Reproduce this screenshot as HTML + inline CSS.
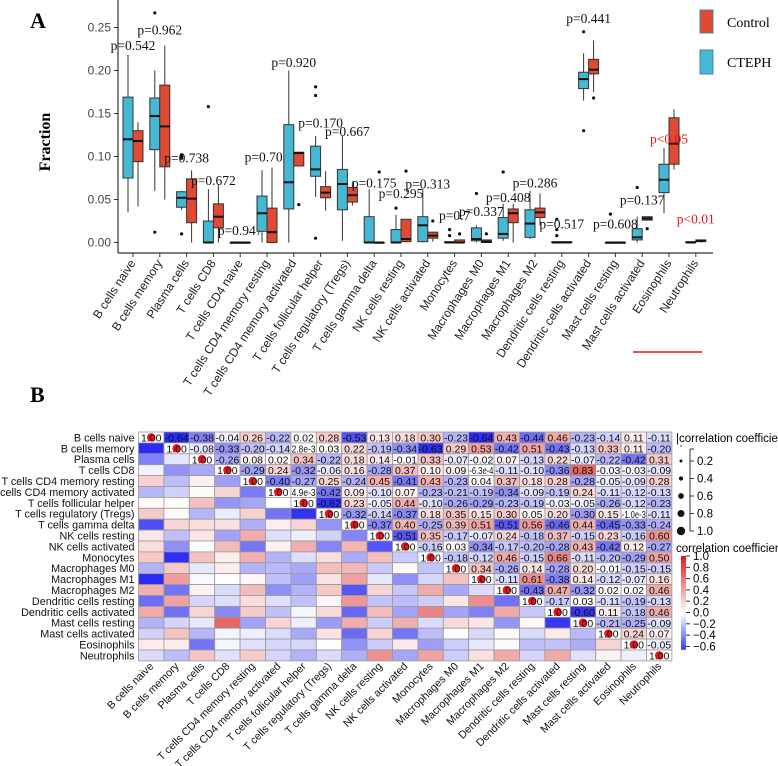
<!DOCTYPE html>
<html><head><meta charset="utf-8"><style>
body{margin:0;background:#fff;}
svg{display:block;font-family:"Liberation Sans",sans-serif;}
</style></head><body>
<svg id="fig" width="778" height="766" xmlns="http://www.w3.org/2000/svg"></svg>
<script>
// ===== Panel A data =====
const catsA=["B cells naive","B cells memory","Plasma cells","T cells CD8","T cells CD4 naive","T cells CD4 memory resting","T cells CD4 memory activated","T cells follicular helper","T cells regulatory (Tregs)","T cells gamma delta","NK cells resting","NK cells activated","Monocytes","Macrophages M0","Macrophages M1","Macrophages M2","Dendritic cells resting","Dendritic cells activated","Mast cells resting","Mast cells activated","Eosinophils","Neutrophils"];
// [lowWhisker,q1,median,q3,highWhisker]
const cteph=[[0.035,0.075,0.12,0.169,0.218],[0.06,0.108,0.147,0.168,0.2],[0.038,0.041,0.052,0.059,0.06],[0,0,0,0.025,0.062],[0,0,0,0,0],[0,0.013,0.034,0.054,0.084],[0,0.039,0.07,0.137,0.2],[0.053,0.077,0.085,0.112,0.124],[0.002,0.038,0.068,0.085,0.124],[0,0,0,0.03,0.062],[0,0,0,0.015,0.032],[0,0.001,0.02,0.03,0.062],[0,0,0,0.001,0.001],[0,0.002,0.004,0.017,0.02],[0.002,0.005,0.01,0.029,0.045],[0.004,0.006,0.022,0.038,0.06],[0,0,0,0.001,0.001],[0.165,0.179,0.19,0.198,0.22],[0,0,0,0,0],[0,0.003,0.006,0.016,0.03],[0.034,0.058,0.073,0.091,0.11],[0,0,0,0.001,0.001]];
const control=[[0.042,0.094,0.118,0.13,0.14],[0.05,0.088,0.135,0.183,0.229],[0,0.023,0.051,0.074,0.084],[0,0.017,0.03,0.045,0.068],[0,0,0,0,0],[0,0,0.012,0.04,0.087],[0.089,0.089,0.104,0.105,0.105],[0.037,0.052,0.058,0.065,0.083],[0.043,0.047,0.055,0.064,0.07],[0,0,0,0,0],[0,0.001,0.004,0.027,0.027],[0.001,0.005,0.008,0.012,0.012],[0,0,0,0.003,0.003],[0,0,0.001,0.003,0.003],[0,0.023,0.034,0.039,0.045],[0.02,0.029,0.035,0.04,0.057],[0,0,0,0.001,0.001],[0.175,0.196,0.201,0.213,0.235],[0,0,0,0,0],[0.026,0.026,0.028,0.03,0.03],[0.085,0.091,0.115,0.145,0.155],[0,0.001,0.002,0.003,0.003]];
const outC=[[],[0.267,0.012],[0.098,0.1,0.102,0.01],[0.158],[],[],[],[0.181,0.171,0.005],[],[],[0.04],[],[0.015,0.008],[0.057],[0.082],[],[0.027,0.008,0.015],[0.245,0.13],[0.033],[0.064],[],[]];
const outK=[[],[],[],[],[],[],[0.044],[],[],[0.082],[0.083],[0.025],[0.01],[0.01],[],[],[],[0.168],[],[0.016],[],[]];
const pLabels=["p=0.542","p=0.962","p=0.738","p=0.672","p=0.947","p=0.705","p=0.920","p=0.170","p=0.667","p=0.175","p=0.295","p=0.313","p=0.7","p=0.337","p=0.408","p=0.286","p=0.517","p=0.441","p=0.608","p=0.137","p<0.05","p<0.01"];
const pY=[0.224,0.242,0.093,0.067,0.009,0.094,0.204,0.134,0.124,0.064,0.052,0.063,0.026,0.031,0.047,0.064,0.016,0.255,0.016,0.044,0.115,0.022];
const yTicks=[0,0.05,0.1,0.15,0.2,0.25];

// ===== Panel B data =====
const catsB=["B cells naive","B cells memory","Plasma cells","T cells CD8","T cells CD4 memory resting","T cells CD4 memory activated","T cells follicular helper","T cells regulatory (Tregs)","T cells gamma delta","NK cells resting","NK cells activated","Monocytes","Macrophages M0","Macrophages M1","Macrophages M2","Dendritic cells resting","Dendritic cells activated","Mast cells resting","Mast cells activated","Eosinophils","Neutrophils"];
const corUpper=[
[1,-0.64,-0.38,-0.04,0.26,-0.22,0.02,0.28,-0.53,0.13,0.18,0.30,-0.23,-0.64,0.43,-0.44,0.46,-0.23,-0.14,0.11,-0.11],
[1,-0.08,-0.33,-0.20,-0.14,2.8e-3,0.03,0.22,-0.19,-0.34,-0.63,0.29,0.53,-0.42,0.51,-0.43,-0.13,0.33,0.11,-0.20],
[1,-0.26,0.08,0.02,0.34,-0.22,0.18,0.14,-7.3e-3,0.33,-0.07,-0.02,0.07,-0.13,0.22,-0.07,-0.22,-0.42,0.31],
[1,-0.29,0.24,-0.32,-0.06,0.16,-0.28,0.37,0.10,0.09,-6.3e-4,-0.11,-0.10,-0.36,0.83,-0.03,-0.03,-0.09],
[1,-0.40,-0.27,0.25,-0.24,0.45,-0.41,0.43,-0.23,0.04,0.37,0.18,0.28,-0.28,-0.05,-0.09,0.28],
[1,4.9e-3,-0.42,0.09,-0.10,0.07,-0.23,-0.21,-0.19,-0.34,-0.09,-0.19,0.24,-0.11,-0.12,-0.13],
[1,-0.62,0.23,-0.05,0.44,-0.10,-0.26,-0.29,-0.23,-0.19,-0.03,-0.05,-0.26,-0.12,-0.23],
[1,-0.32,-0.14,-0.37,0.18,0.35,0.15,0.30,0.05,0.20,-0.30,0.15,-1.0e-3,-0.11],
[1,-0.37,0.40,-0.25,0.39,0.51,-0.51,0.56,-0.46,0.44,-0.45,-0.33,-0.24],
[1,-0.51,0.35,-0.17,-0.07,0.24,-0.18,0.37,-0.15,0.23,-0.16,0.60],
[1,-0.16,0.03,-0.34,-0.17,-0.20,-0.28,0.43,-0.42,0.12,-0.27],
[1,-0.18,-0.12,0.46,-0.15,0.66,-0.11,-0.20,-0.29,0.50],
[1,0.34,-0.26,0.14,-0.28,0.20,-0.01,-0.15,-0.15],
[1,-0.11,0.61,-0.38,0.14,-0.12,-0.07,0.16],
[1,-0.43,0.47,-0.32,0.02,0.02,0.46],
[1,-0.17,0.03,-0.11,-0.19,-0.13],
[1,-0.60,0.11,-0.18,0.46],
[1,-0.21,-0.25,-0.09],
[1,0.24,0.07],
[1,-0.05],
[1]];
const sizeTicks=[0.2,0.4,0.6,0.8,1.0];
const colorTicks=[1.0,0.8,0.6,0.4,0.2,0.0,-0.2,-0.4,-0.6];

const NS="http://www.w3.org/2000/svg";
const svg=document.getElementById('fig');
function mk(tag,attrs,parent,text){const e=document.createElementNS(NS,tag);for(const k in attrs)e.setAttribute(k,attrs[k]);if(text!==undefined)e.textContent=text;(parent||svg).appendChild(e);return e;}

// ---- Panel A ----
const gA=mk('g',{});


const X0=133,DX=26.8,Y0=242.5,SC=860;
const xA=i=>X0+i*DX;
const yA=v=>Y0-v*SC;
let t=mk('text',{x:30,y:28,'font-family':'Liberation Serif,serif','font-size':22,'font-weight':'bold'},gA,'A');

mk('line',{x1:118,y1:0,x2:118,y2:253,stroke:'#333','stroke-width':1.2},gA);
mk('line',{x1:118,y1:253,x2:713,y2:253,stroke:'#333','stroke-width':1.2},gA);
yTicks.forEach(v=>{
  mk('line',{x1:114,y1:yA(v),x2:118,y2:yA(v),stroke:'#333'},gA);
  const tl=mk('text',{x:111,y:yA(v)+4,'text-anchor':'end','font-size':12,fill:'#444'},gA,v.toFixed(2));
  
});
t=mk('text',{x:0,y:0,transform:'translate(50,142) rotate(-90)','text-anchor':'middle','font-family':'Liberation Serif,serif','font-size':16,'font-weight':'bold'},gA,'Fraction');

function box(cx,s,col,outs,name){
  const g=mk('g',{},gA);
  
  
  const w=10,l=cx-w/2,m=cx;
  mk('line',{x1:m,y1:yA(s[0]),x2:m,y2:yA(s[4]),stroke:'#333','stroke-width':1},g);
  mk('rect',{x:l,y:yA(s[3]),width:w,height:Math.max(0.8,yA(s[1])-yA(s[3])),fill:col,stroke:'#333','stroke-width':1},g);
  mk('line',{x1:l,y1:yA(s[2]),x2:l+w,y2:yA(s[2]),stroke:'#111','stroke-width':2},g);
  outs.forEach(o=>mk('circle',{cx:m,cy:yA(o),r:1.6,fill:'#111'},g));
}
catsA.forEach((c,i)=>{
  const cx=xA(i);
  box(cx-5,cteph[i],'#47b8d3',outC[i],'box-cteph');
  box(cx+5,control[i],'#e04a33',outK[i],'box-control');
  mk('line',{x1:cx,y1:253,x2:cx,y2:257,stroke:'#333'},gA);
  const sig=pLabels[i].indexOf('<')>=0;
  const pl=mk('text',{x:cx,y:yA(pY[i]),'text-anchor':'middle','font-family':'Liberation Serif,serif','font-size':13.5,fill:sig?'#e8141a':'#111'},gA,pLabels[i]);
  
  const xl=mk('text',{x:0,y:0,transform:`translate(${cx+3},${263}) rotate(-57)`,'text-anchor':'end','font-size':12,fill:'#222'},gA,c);
  
});
mk('line',{x1:633,y1:352,x2:702,y2:352,stroke:'#e8141a','stroke-width':1.5},gA);
// legend
const lg=mk('g',{},gA);

const le1=mk('g',{},lg);
mk('rect',{x:700,y:10,width:13,height:23,fill:'#e04a33',stroke:'#4a7fb0'},le1);
mk('text',{x:727,y:27,'font-family':'Liberation Serif,serif','font-size':14},le1,'Control');
const le2=mk('g',{},lg);
mk('rect',{x:700,y:50,width:13,height:24,fill:'#47b8d3',stroke:'#4a7fb0'},le2);
mk('text',{x:727,y:67,'font-family':'Liberation Serif,serif','font-size':14},le2,'CTEPH');

// ---- Panel B ----
const gB=mk('g',{});

t=mk('text',{x:30,y:402,'font-family':'Liberation Serif,serif','font-size':22,'font-weight':'bold'},gB,'B');

const HX=138.5,HY=432,CW=25.4,CH=10.9,N=catsB.length;
function corr(i,j){return i<=j?corUpper[i][j-i]:corUpper[j][i-j];}
function colr(v){
  if(v<0){const k=Math.min(1,-v/0.68);return `rgb(${Math.round(255-k*225)},${Math.round(255-k*225)},${Math.round(255-k*15)})`;}
  const k=Math.min(1,v);return `rgb(${Math.round(255-k*30)},${Math.round(255-k*185)},${Math.round(255-k*185)})`;
}
function fmt(v){return Math.abs(v)<0.005&&v!==0?v.toExponential(1):v.toFixed(2);}
for(let i=0;i<N;i++){
  const rl=mk('text',{x:HX-4,y:HY+i*CH+CH-1.5,'text-anchor':'end','font-size':10.8,fill:'#111'},gB,catsB[i]);
  
  const cl=mk('text',{x:0,y:0,transform:`translate(${HX+i*CW+CW/2+3},${HY+N*CH+6}) rotate(-45)`,'text-anchor':'end','font-size':10.8,fill:'#111'},gB,catsB[i]);
  
  for(let j=0;j<N;j++){
    const v=corr(i,j);
    const r=mk('rect',{x:HX+j*CW,y:HY+i*CH,width:CW,height:CH,fill:i===j?'#fff':colr(v),stroke:'#999','stroke-width':0.8},gB);
    
    
  }
}
for(let i=0;i<N;i++){for(let j=i;j<N;j++){
  const v=corr(i,j),cx=HX+j*CW+CW/2,cy=HY+i*CH+CH/2;
  if(i===j){const d=mk('circle',{cx:cx,cy:cy,r:4.2,fill:'#e8141a'},gB);}
  const small=Math.abs(v)<0.005&&v!==0;
  const tx=mk('text',{x:cx,y:cy+4,'text-anchor':'middle','font-size':10.5,fill:'#111'},gB,fmt(v));
  if(small){tx.setAttribute('textLength',24);tx.setAttribute('lengthAdjust','spacingAndGlyphs');}
  
}}
// size legend
const sl=mk('g',{},gB);
mk('text',{x:676,y:442,'font-size':11.5},sl,'|correlation coefficient|');
mk('line',{x1:690,y1:449,x2:690,y2:531,stroke:'#333'},sl);
mk('line',{x1:690,y1:449,x2:694,y2:449,stroke:'#333'},sl);
sizeTicks.forEach((s,k)=>{const y=461+k*17.5;
  mk('line',{x1:690,y1:y,x2:694,y2:y,stroke:'#333'},sl);
  mk('circle',{cx:681,cy:y,r:0.8+s*3.4,fill:'#111'},sl);
  mk('text',{x:697,y:y+4,'font-size':11.5},sl,s.toFixed(1));});
mk('circle',{cx:681,cy:446,r:0.7,fill:'#111'},sl);
// color legend
const cg=mk('g',{},gB);
mk('text',{x:676,y:552,'font-size':11.5},cg,'correlation coefficient');
const defs=mk('defs',{},svg);
const gr=mk('linearGradient',{id:'cb',x1:0,y1:0,x2:0,y2:1},defs);
[[0,'#e8141a'],[0.4,'#f3b0b0'],[0.61,'#ffffff'],[1,'#3040f0']].forEach(s=>mk('stop',{offset:s[0],'stop-color':s[1]},gr));
const cbTop=556,cbStep=11.3;
const cbY=v=>cbTop+(1-v)/0.2*cbStep;
mk('rect',{x:681,y:cbY(1),width:5,height:cbY(-0.66)-cbY(1),fill:'url(#cb)'},cg);
colorTicks.forEach(v=>{const y=cbY(v);
  mk('line',{x1:686,y1:y,x2:690,y2:y,stroke:'#333'},cg);
  mk('text',{x:693,y:y+4,'font-size':11.5},cg,(v<0?'\u2212':'')+Math.abs(v).toFixed(1));});
</script>
</body></html>
